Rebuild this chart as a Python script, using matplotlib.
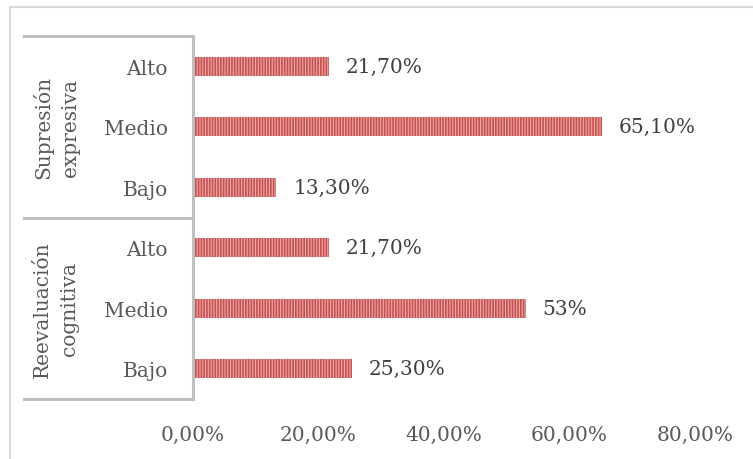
import matplotlib
matplotlib.use("Agg")
import matplotlib.pyplot as plt
from matplotlib.lines import Line2D

groups = ["Supresión\nexpresiva", "Reevaluación\ncognitiva"]
levels = ["Alto", "Medio", "Bajo", "Alto", "Medio", "Bajo"]
values = [21.7, 65.1, 13.3, 21.7, 53.0, 25.3]
value_labels = ["21,70%", "65,10%", "13,30%", "21,70%", "53%", "25,30%"]
x_ticks = [0, 20, 40, 60, 80]
x_tick_labels = ["0,00%", "20,00%", "40,00%", "60,00%", "80,00%"]

plt.rcParams['font.family'] = ['DejaVu Serif']
plt.rcParams['hatch.linewidth'] = 1.2

W, H = 753, 460
fig = plt.figure(figsize=(W / 100, H / 100), dpi=100)
ax = fig.add_axes([193 / W, (H - 400) / H, 502 / W, 363 / H])

n = len(values)
ypos = [n - 1 - i for i in range(n)]
ax.barh(ypos, values, height=0.31, color='#E9ADAC', edgecolor='#C9504E',
        linewidth=0, hatch='||||||')

for y, v, lab in zip(ypos, values, value_labels):
    ax.annotate(lab, (v, y), xytext=(12, 0), textcoords='offset points',
                va='center', ha='left', fontsize=14.5, color='#404040')

ax.set_xlim(0, 80)
ax.set_ylim(-0.5, n - 0.5)
ax.set_xticks(x_ticks)
ax.set_xticklabels(x_tick_labels, fontsize=14.5, color='#595959')
ax.set_yticks(ypos)
ax.set_yticklabels(levels, fontsize=14.5, color='#595959')
ax.tick_params(axis='x', length=0, pad=19)
ax.tick_params(axis='y', length=0, pad=18)
for s in ['top', 'right', 'bottom']:
    ax.spines[s].set_visible(False)
ax.spines['left'].set_color('#BFBFBF')
ax.spines['left'].set_linewidth(2.2)

# group separators
x0 = (24 - 193) / 502
for yy in [n - 0.5, 2.5, -0.5]:
    ax.add_line(Line2D([x0, 0], [yy, yy], transform=ax.get_yaxis_transform(),
                       color='#BFBFBF', linewidth=2.2, clip_on=False))

# group labels
gx = (56 - 193) / 502
for gi, g in enumerate(groups):
    yc = n - 1 - (gi * 3 + 1)
    ax.text(gx, yc, g, transform=ax.get_yaxis_transform(), rotation=90,
            ha='center', va='center', multialignment='center',
            fontsize=14.5, color='#595959', linespacing=1.55)

# outer chart border
fig.add_artist(Line2D([10 / W, 10 / W], [0, (H - 8) / H], color='#D9D9D9', linewidth=1.5))
fig.add_artist(Line2D([10 / W, 1], [(H - 8) / H, (H - 8) / H], color='#D9D9D9', linewidth=1.5))

fig.savefig("out.png", dpi=100)
